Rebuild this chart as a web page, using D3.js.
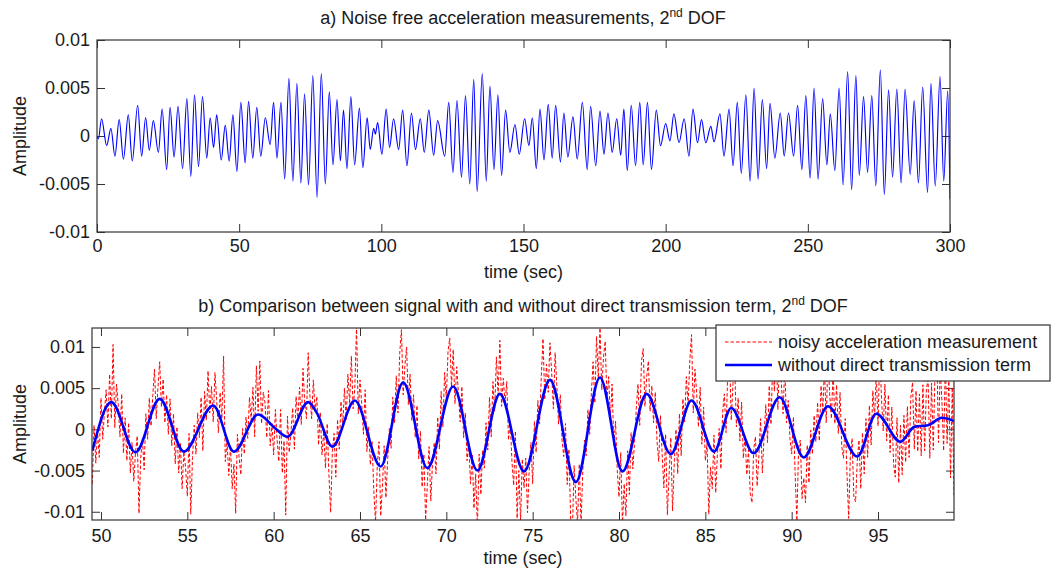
<!DOCTYPE html>
<html>
<head>
<meta charset="utf-8">
<script src="https://cdn.jsdelivr.net/npm/d3@7"></script>
<style>
  body { margin: 0; background: #fff; }
  svg { display: block; font-family: "Liberation Sans", Arial, sans-serif; }
  .tick text { font-size: 18px; fill: #1a1a1a; }
  .tick line { stroke: #333; }
  .lbl { font-size: 18px; fill: #1a1a1a; }
</style>
</head>
<body>
<svg id="chart" width="1054" height="574"></svg>
<script>
// a) noise free signal, turning points (sec, amplitude)
var topTime = [0,0.5,1.6,3.4,4.9,6.3,7.8,9.3,11.0,12.4,
  14.3,15.7,17.1,18.4,19.8,21.6,22.9,24.5,25.7,27.1,
  28.5,30.1,31.6,33.0,34.3,35.7,37.1,38.6,39.8,41.0,
  42.1,43.7,45.1,46.5,47.8,49.2,50.6,52.1,53.3,54.8,
  56.2,57.6,59.2,60.9,62.1,63.3,64.7,66.0,67.5,68.9,
  70.3,71.7,73.0,74.4,75.9,77.4,78.9,80.3,81.7,83.0,
  84.4,85.6,86.7,87.9,89.3,90.6,92.3,93.5,95.0,96.1,
  97.3,97.9,98.7,100.2,101.7,102.9,104.3,106.1,107.5,109.0,
  110.6,112.0,113.7,115.1,116.7,118.4,119.8,122.3,123.7,125.2,
  126.6,128.2,129.6,131.1,132.5,133.7,135.5,136.9,138.2,139.6,
  141.0,142.3,143.7,145.2,147.0,148.5,150.4,151.9,153.1,154.5,
  155.8,157.2,158.7,160.1,161.3,163.0,164.2,165.6,167.4,168.9,
  170.7,172.4,173.6,175.4,176.9,178.3,179.7,181.2,182.8,184.2,
  185.3,186.5,187.9,189.4,190.9,192.1,193.6,195.0,196.7,198.2,
  200.0,201.5,202.9,204.7,206.5,208.2,209.6,211.2,212.6,214.1,
  215.9,217.0,219.1,220.5,222.3,223.7,225.2,226.6,228.2,229.7,
  231.1,232.5,234.0,235.5,236.7,238.4,240.3,241.7,243.2,245.0,
  246.4,247.9,249.3,250.8,252.2,253.6,255.2,256.7,257.9,259.5,
  261.0,262.4,264.0,265.4,266.9,268.1,269.6,271.0,272.5,273.9,
  275.5,276.9,278.4,279.8,281.3,282.8,284.2,286.0,287.4,288.9,
  290.4,292.1,293.3,294.8,296.5,297.8,299.2,300.0];
var topAmp = [0,-0.0003,0.0018,-0.001,0.0008,-0.0021,0.0017,-0.0024,0.0022,-0.0026,
  0.0032,-0.0021,0.0019,-0.0015,0.0016,-0.0017,0.0028,-0.0035,0.003,-0.0022,
  0.0031,-0.0034,0.0039,-0.0042,0.0043,-0.0032,0.0041,-0.0023,0.0019,-0.0012,
  0.0022,-0.0025,0.0011,-0.0026,0.0022,-0.0037,0.0035,-0.0028,0.0036,-0.0023,
  0.003,-0.0021,0.0019,-0.0009,0.0035,-0.0023,0.0035,-0.0045,0.006,-0.0047,
  0.0055,-0.0049,0.0044,-0.0051,0.0063,-0.0064,0.0065,-0.005,0.0046,-0.003,
  0.0038,-0.0026,0.0027,-0.0034,0.0041,-0.003,0.0029,-0.0033,0.0019,-0.0014,
  0.0008,0.0002,0.0014,-0.0019,0.0028,-0.0012,0.0018,-0.0014,0.0027,-0.0031,
  0.0024,-0.0014,0.0018,-0.0017,0.0027,-0.002,0.0016,-0.0021,0.0035,-0.0038,
  0.0037,-0.0043,0.0042,-0.005,0.0059,-0.0058,0.0065,-0.0047,0.0052,-0.0035,
  0.0043,-0.0041,0.0027,-0.0017,0.0012,-0.0019,0.0018,-0.001,0.0019,-0.0034,
  0.0028,-0.0025,0.0033,-0.0023,0.0032,-0.0027,0.0024,-0.0022,0.002,-0.0024,
  0.0035,-0.0035,0.0031,-0.0031,0.0026,-0.0019,0.0024,-0.0017,0.0018,-0.002,
  0.0028,-0.0036,0.0032,-0.0031,0.0035,-0.003,0.0035,-0.0035,0.0027,-0.001,
  0.0013,-0.0005,0.0023,-0.0007,0.0018,-0.0021,0.0028,-0.0007,0.0017,-0.0007,
  0.001,-0.0006,0.0023,-0.0021,0.0028,-0.0031,0.0035,-0.0039,0.0043,-0.0047,
  0.005,-0.0045,0.0038,-0.0034,0.0034,-0.0023,0.0024,-0.0021,0.0024,-0.0021,
  0.0032,-0.0035,0.0042,-0.0044,0.005,-0.0045,0.0039,-0.003,0.0023,-0.0036,
  0.005,-0.0051,0.0067,-0.0056,0.0063,-0.0041,0.0041,-0.0038,0.0042,-0.0052,
  0.0069,-0.0061,0.0048,-0.0043,0.0049,-0.0049,0.0049,-0.004,0.0037,-0.0049,
  0.0051,-0.0059,0.0055,-0.0052,0.0062,-0.0047,0.0047,-0.0066];

// b) signal without direct transmission term, turning points (sec, amplitude)
var cleanTime = [49.5,50.6,52.0,53.4,54.8,56.5,57.7,59.1,60.1,60.8,
  62.0,62.5,63.4,64.7,66.2,67.5,68.9,70.4,71.8,73.1,
  74.5,76.0,77.5,78.9,80.2,81.6,83.0,84.2,85.5,86.5,
  87.8,89.3,90.7,92.1,93.8,94.9,96.3,97.1,97.9,98.7,99.4];
var cleanAmp = [-0.0026,0.0033,-0.0028,0.0037,-0.0027,0.0029,-0.0027,0.0018,0.0001,-0.0009,
  0.0033,0.002,-0.0021,0.0035,-0.0045,0.0057,-0.0047,0.0052,-0.005,0.0043,
  -0.0051,0.006,-0.0064,0.0063,-0.0051,0.0043,-0.003,0.0035,-0.0027,0.0026,
  -0.0029,0.0039,-0.0034,0.0028,-0.0033,0.0019,-0.0015,0.0003,0.0005,0.0014,0.001];

// b) noisy measurement, one sample every 0.1 sec from 49.5 sec, values in units of 1e-3
var noisyStart = 49.5, noisyStep = 0.1;
var noisyMilli = [
  -6.6,0.5,-4.1,-0.2,-3.4,3.8,-1.2,2.1,4.8,0.3,
  6.7,1.3,10.3,0.2,5.5,3.0,-0.9,4.3,-2.9,1.4,
  -3.8,0.8,-5.3,-1.6,-6.3,-2.8,-0.8,-10.2,-3.5,-1.1,
  -4.9,1.9,-1.2,3.8,0.4,4.1,7.3,1.3,5.1,8.2,
  2.7,6.1,0.8,4.2,-0.6,3.7,-2.0,1.9,-4.2,0.3,
  -5.3,-1.6,-7.2,-2.7,-4.7,-8.1,-0.5,-10.3,-3.4,0.5,
  -3.0,2.0,-1.0,3.9,-2.6,4.6,1.1,7.1,2.0,5.2,
  0.9,6.9,3.6,-0.4,4.5,1.3,8.9,-3.9,-1.4,-5.6,
  -2.0,-7.2,-4.2,-10.2,-0.6,-3.4,-5.5,0.1,-3.0,1.5,
  -1.1,3.9,1.1,5.1,-0.9,7.7,2.2,8.3,0.7,4.5,
  3.2,-1.0,4.7,-2.0,0.7,-3.1,2.4,-1.3,-3.9,2.4,
  -5.3,-1.4,-10.4,1.6,-2.8,-0.5,2.6,-2.4,4.0,1.1,
  5.1,0.6,7.4,3.2,1.3,9.3,4.1,1.3,6.0,2.2,
  4.0,-1.9,2.1,-3.1,-0.2,-4.7,0.7,-5.5,-10.1,-2.6,
  -0.5,-5.8,1.2,-2.4,3.4,0.3,5.0,1.2,6.7,3.1,
  8.9,2.5,5.0,12.5,1.9,6.0,3.1,-0.6,4.8,-2.7,
  0.3,-4.3,-1.5,-7.5,-11.2,-4.4,-1.5,-10.5,-6.9,-2.0,
  -8.3,-3.9,0.1,-2.3,3.9,0.8,6.5,2.0,9.2,12.1,
  4.2,7.7,10.0,3.0,6.7,1.1,4.2,-1.0,2.9,-3.6,
  -0.2,-7.0,-3.0,-11.0,-6.7,-2.1,-8.7,-4.0,-1.6,-5.4,
  1.5,-2.4,4.6,0.3,6.9,3.8,9.5,11.1,5.2,9.7,
  3.1,7.6,4.4,0.9,5.2,-1.0,2.0,-3.8,-1.5,-6.6,
  -3.0,-9.6,-5.4,-12.0,-3.0,-7.9,-2.5,-4.7,0.8,-2.5,
  3.9,-0.9,5.8,2.2,8.8,4.2,10.8,2.8,6.2,3.1,
  5.8,-1.3,1.0,-3.9,-6.8,-0.2,-10.8,-5.0,-11.1,-3.6,
  -7.1,-3.5,-10.1,-5.0,-1.6,-6.6,1.0,-2.8,3.5,0.7,
  6.5,11.0,3.6,7.9,4.5,10.5,6.9,2.5,9.3,5.3,
  0.6,4.2,-1.3,-3.3,0.7,-6.7,-2.4,-10.9,-12.3,-4.4,
  -8.4,-11.4,-4.2,-11.6,-5.1,-1.3,-3.2,2.4,-0.6,4.4,
  8.2,3.2,11.3,6.2,12.3,4.8,8.7,10.7,3.7,6.4,
  1.3,5.5,-2.0,1.0,-5.0,-8.2,-2.8,-11.6,-6.6,-10.5,
  -2.6,-7.9,-0.4,-4.8,-1.5,2.5,5.5,0.5,8.2,9.8,
  2.8,6.3,8.3,2.2,5.3,0.8,4.5,-1.4,-3.9,1.7,
  -3.1,-7.1,-0.6,-10.4,-5.5,-1.0,-9.9,-4.0,0.0,-5.4,
  1.9,-3.2,3.7,0.9,6.4,3.0,8.3,11.5,2.0,7.3,
  4.3,0.3,5.1,-1.8,2.7,-3.8,-1.7,-10.3,-4.6,-7.2,
  -0.7,-7.7,-2.9,0.1,-4.8,2.0,4.3,-0.4,7.2,9.1,
  1.1,5.6,7.6,0.3,3.8,-1.4,3.3,-3.5,-0.8,-5.5,
  -2.5,-7.8,-8.9,-2.4,-0.9,-6.9,-3.2,1.3,-5.3,-0.9,
  3.0,-1.6,5.3,0.6,8.2,4.6,10.3,2.4,8.9,5.7,
  1.9,7.7,0.8,3.5,-1.1,-3.0,1.5,-5.4,-11.1,-2.3,
  -1.3,-8.4,-5.9,-8.9,-1.9,-6.5,-0.1,-3.0,1.7,-1.5,
  3.3,-1.4,5.3,2.3,7.6,0.8,8.8,4.3,1.3,7.3,
  0.7,5.4,-0.5,4.5,-2.1,-3.5,1.3,-5.3,-10.8,-3.1,
  -1.1,-8.2,-8.8,-3.8,-1.3,-7.2,-0.4,-5.4,1.3,-3.4,
  2.9,-1.9,4.7,1.4,6.8,0.4,9.4,3.8,-0.2,5.5,
  -1.4,4.2,-2.8,2.7,-4.2,-5.8,1.4,-6.5,0.5,-5.5,
  1.7,-4.0,2.8,-3.4,3.9,5.7,-2.4,4.7,-2.7,4.3,
  -3.2,5.4,-2.6,4.9,6.0,-3.5,5.6,-2.5,7.0,10.3,
  -1.6,7.4,3.4,-2.6,8.4,-1.7,6.2,-5.9,5.1,-8.0];

var topXTicks = [0, 50, 100, 150, 200, 250, 300];
var botXTicks = [50, 55, 60, 65, 70, 75, 80, 85, 90, 95];
var ampTicks = [-0.01, -0.005, 0, 0.005, 0.01];
var legendLabels = ["noisy acceleration measurement", "without direct transmission term"];

var svg = d3.select("#chart");
var ampFmt = function(d){ return d === 0 ? "0" : String(+d.toFixed(3)); };

function panel(id, left, top, w, h, xDom, yDom, xTicks, xPad) {
  var g = svg.append("g").attr("transform", "translate(" + left + "," + top + ")");
  var x = d3.scaleLinear().domain(xDom).range([0, w]);
  var y = d3.scaleLinear().domain(yDom).range([h, 0]);
  g.append("clipPath").attr("id", id).append("rect").attr("width", w).attr("height", h);

  g.append("g").attr("transform", "translate(0," + h + ")")
    .call(d3.axisBottom(x).tickValues(xTicks).tickSize(-8).tickPadding(xPad).tickFormat(d3.format("d")));
  g.append("g").call(d3.axisTop(x).tickValues(xTicks).tickSize(-8).tickFormat(""));
  g.append("g").call(d3.axisLeft(y).tickValues(ampTicks).tickSize(-8).tickPadding(7).tickFormat(ampFmt));
  g.append("g").attr("transform", "translate(" + w + ",0)")
    .call(d3.axisRight(y).tickValues(ampTicks).tickSize(-8).tickFormat(""));
  g.selectAll(".domain").remove();

  var plot = g.append("g").attr("clip-path", "url(#" + id + ")");
  g.append("rect").attr("width", w).attr("height", h)
    .attr("fill", "none").attr("stroke", "#333").attr("stroke-width", 1.2);
  return {g: g, plot: plot, x: x, y: y, w: w, h: h};
}

function title(cx, y, main) {
  var t = svg.append("text").attr("class", "lbl").attr("x", cx).attr("y", y).attr("text-anchor", "middle");
  t.append("tspan").text(main + "2");
  t.append("tspan").attr("dy", -7).style("font-size", "12px").text("nd");
  t.append("tspan").attr("dy", 7).text(" DOF");
}

function axisLabels(p, left, top, xlabY) {
  svg.append("text").attr("class", "lbl").attr("text-anchor", "middle")
    .attr("x", left + p.w / 2).attr("y", xlabY).text("time (sec)");
  svg.append("text").attr("class", "lbl").attr("text-anchor", "middle")
    .attr("transform", "translate(26," + (top + p.h / 2) + ") rotate(-90)").text("Amplitude");
}

// ---- a) top panel
var pa = panel("clipA", 97, 40, 853, 192, [0, 300], [-0.01, 0.01], topXTicks, 7);
var lineA = d3.line().x(function(d){ return pa.x(d[0]); }).y(function(d){ return pa.y(d[1]); })
  .curve(d3.curveMonotoneX);
pa.plot.append("path").datum(d3.zip(topTime, topAmp)).attr("d", lineA)
  .attr("fill", "none").attr("stroke", "#0000ff").attr("stroke-width", 1.15);
title(523, 24, "a) Noise free acceleration measurements, ");
axisLabels(pa, 97, 40, 278);

// ---- b) bottom panel
var pb = panel("clipB", 92, 328, 862, 192, [49.48, 99.4], [-0.011, 0.0123], botXTicks, 9);
var noisy = noisyMilli.map(function(v, i){ return [noisyStart + i * noisyStep, v / 1000]; });
var lineB = d3.line().x(function(d){ return pb.x(d[0]); }).y(function(d){ return pb.y(d[1]); });
pb.plot.append("path").datum(noisy).attr("d", lineB)
  .attr("fill", "none").attr("stroke", "#ff0000").attr("stroke-width", 1)
  .attr("stroke-dasharray", "3.5,2");
pb.plot.append("path").datum(d3.zip(cleanTime, cleanAmp)).attr("d", lineB.curve(d3.curveMonotoneX))
  .attr("fill", "none").attr("stroke", "#0000ff").attr("stroke-width", 2.6);
title(523, 312, "b) Comparison between signal with and without direct transmission term, ");
axisLabels(pb, 92, 328, 564);

// legend
var lg = svg.append("g").attr("transform", "translate(716,325)");
lg.append("rect").attr("width", 334).attr("height", 56).attr("fill", "#fff").attr("stroke", "#333").attr("stroke-width", 1.2);
var rows = lg.selectAll("g.row").data(legendLabels).enter().append("g")
  .attr("transform", function(d, i){ return "translate(0," + (17 + i * 23) + ")"; });
rows.append("line").attr("x1", 9).attr("x2", 56)
  .attr("stroke", function(d, i){ return i ? "#0000ff" : "#ff0000"; })
  .attr("stroke-width", function(d, i){ return i ? 2.6 : 1; })
  .attr("stroke-dasharray", function(d, i){ return i ? null : "3.5,2"; });
rows.append("text").attr("class", "lbl").attr("x", 62).attr("dy", "0.35em").text(function(d){ return d; });
</script>
</body>
</html>
